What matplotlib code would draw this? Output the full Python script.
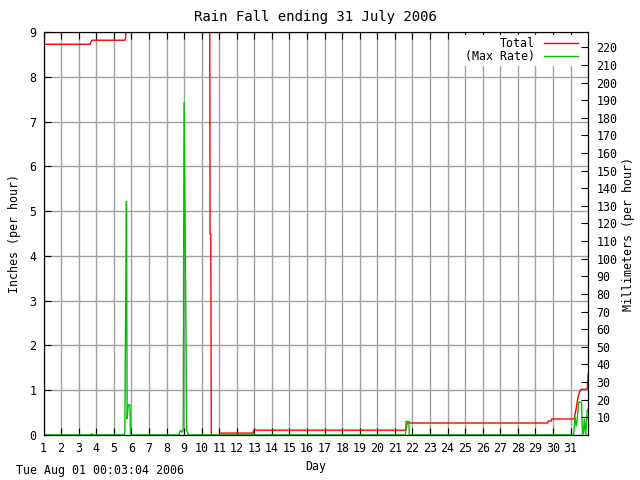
import matplotlib
matplotlib.use('Agg')
import matplotlib.pyplot as plt
import numpy as np

# Total rainfall (inches), by day of month
total_day = [1.0, 3.65, 3.70, 3.75, 5.63, 5.68, 5.80, 10.45, 10.48, 10.52, 10.55,
             11.02, 11.05, 12.93, 12.96, 21.63, 21.66, 21.70, 29.70, 29.72, 29.90,
             29.93, 31.20, 31.30, 31.40, 31.50, 31.60, 31.95, 32.0]
total_in = [8.73, 8.73, 8.78, 8.82, 8.82, 8.88, 12.0, 12.0, 4.49, 4.49, 0.0,
            0.0, 0.04, 0.04, 0.105, 0.105, 0.18, 0.265, 0.265, 0.31, 0.31,
            0.355, 0.355, 0.55, 0.80, 0.95, 1.02, 1.02, 1.36]

# Max rate (inches per hour)
rate_day = [1.0, 3.70, 3.75, 3.80, 5.60, 5.63, 5.67, 5.72, 5.76, 5.82, 5.92, 5.95,
            8.70, 8.76, 8.82, 8.88, 8.95, 9.00, 9.08, 9.15, 9.20, 9.25,
            12.90, 13.00, 13.08, 21.60, 21.63, 21.80, 21.82,
            31.18, 31.25, 31.32, 31.38, 31.45, 31.62, 31.68, 31.73, 31.78, 31.86, 31.95]
rate_in = [0.0, 0.0, 0.03, 0.0, 0.0, 0.1, 2.63, 5.22, 0.36, 0.67, 0.67, 0.0,
           0.0, 0.08, 0.1, 0.06, 0.1, 7.43, 3.76, 0.1, 0.05, 0.0,
           0.0, 0.03, 0.0, 0.0, 0.3, 0.3, 0.0,
           0.0, 0.4, 0.2, 0.35, 0.73, 0.73, 0.02, 0.03, 0.35, 0.0, 0.57]

days = list(range(1, 32))
inch_ticks = list(range(0, 10))
mm_ticks = list(range(10, 221, 10))

plt.rcParams['font.family'] = 'DejaVu Sans Mono'
plt.rcParams['font.size'] = 8.4

fig = plt.figure(figsize=(6.4, 4.8), dpi=100)
ax = fig.add_axes([0.068, 0.094, 0.851, 0.839])

ax.plot(total_day, total_in, c='#ff0000', lw=1, label='Total', zorder=3)
ax.plot(rate_day, rate_in, c='#00c000', lw=1, label='(Max Rate)', zorder=3)

ax.set_xlim(1, 32)
ax.set_ylim(0, 9)
ax.set_xticks(days)
ax.set_yticks(inch_ticks)
ax.grid(True, color='#a0a0a0', lw=1, zorder=0)
ax.set_axisbelow(True)
ax.tick_params(direction='in', length=5, width=0.8, top=True, right=True, pad=5)
for s in ax.spines.values():
    s.set_linewidth(0.8)

ax2 = ax.twinx()
ax2.set_ylim(0, 9 * 25.4)
ax2.set_yticks(mm_ticks)
ax2.tick_params(direction='in', length=5, width=0.8, pad=6)

ax.set_xlabel('Day', labelpad=4)
ax.set_ylabel('Inches (per hour)', labelpad=6)
ax2.set_ylabel('Millimeters (per hour)', labelpad=3)
ax.set_title('Rain Fall ending 31 July 2006', pad=8)

leg = ax.legend(loc='upper right', bbox_to_anchor=(580 / 640, 1 - 35 / 480),
                bbox_transform=fig.transFigure, markerfirst=False,
                handlelength=2.9, frameon=True, facecolor='white',
                edgecolor='white', framealpha=1, fancybox=False,
                borderpad=0.2, labelspacing=-0.05, handletextpad=0.75,
                borderaxespad=0)
leg.set_zorder(5)
for t in leg.get_texts():
    t.set_ha('right')

fig.text(0.025, 0.012, 'Tue Aug 01 00:03:04 2006')

plt.savefig('out.png')
